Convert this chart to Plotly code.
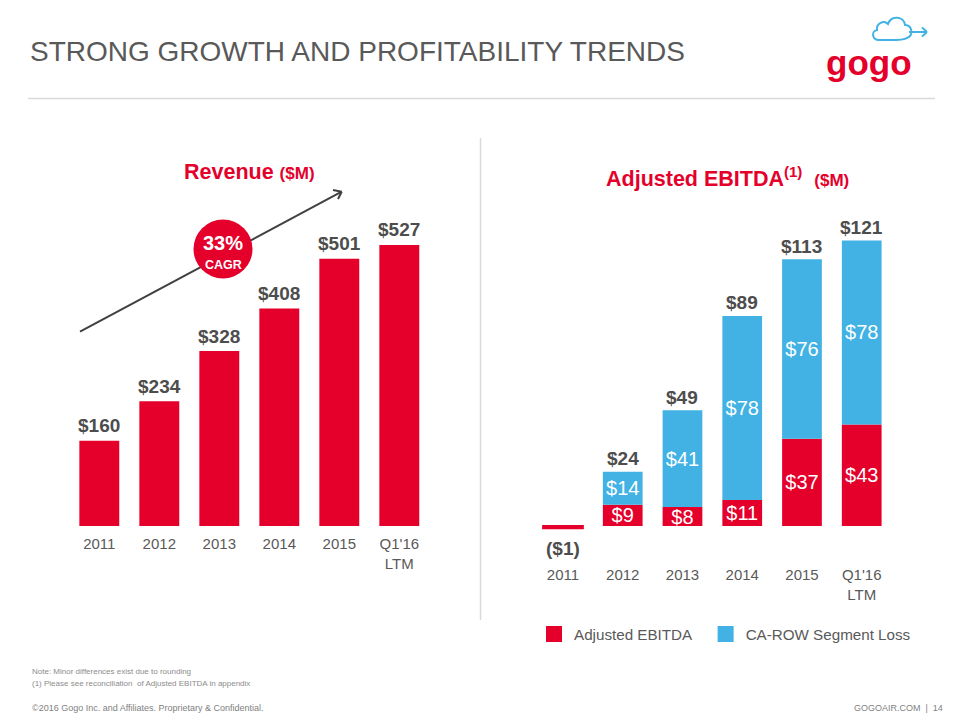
import plotly.graph_objects as go

# page offset (browser body margin) compensation
OFF = 8
W, H = 960 - OFF, 720 - OFF

# ---------------- data ----------------
categories = ["2011", "2012", "2013", "2014", "2015", "Q1'16<br>LTM"]
revenue = [160, 234, 328, 408, 501, 527]
adj_ebitda = [-1, 9, 8, 11, 37, 43]
ca_row_loss = [None, 14, 41, 78, 76, 78]
ebitda_totals = [-1, 24, 49, 89, 113, 121]
cagr_pct = 33

RED = "#E4002B"
BLUE = "#41B2E3"
DARK = "#4D4D4D"
GRAY = "#595959"
LIGHT = "#D9D9D9"
FONT = "Liberation Sans, Arial, sans-serif"


def px(x):
    return (x - OFF) / W


def py(y):
    return 1 - (y - OFF) / H


def money(v):
    return f"${v}" if v >= 0 else f"(${-v})"


fig = go.Figure()

# Revenue bars
fig.add_trace(go.Bar(
    x=categories, y=revenue, marker=dict(color=RED, line=dict(width=0)),
    xaxis="x", yaxis="y", showlegend=False, hoverinfo="skip",
))

# Adjusted EBITDA stacked bars
fig.add_trace(go.Bar(
    x=categories, y=adj_ebitda,
    marker=dict(color=RED, line=dict(color=RED, width=[2 if v < 0 else 0 for v in adj_ebitda])),
    xaxis="x2", yaxis="y2", showlegend=False, hoverinfo="skip",
    text=[money(v) if v > 0 else "" for v in adj_ebitda],
    textposition="inside", insidetextanchor="middle", textangle=0,
    constraintext="none", textfont=dict(color="white", size=20, family=FONT),
))
fig.add_trace(go.Bar(
    x=categories, y=ca_row_loss, marker=dict(color=BLUE, line=dict(width=0)),
    xaxis="x2", yaxis="y2", showlegend=False, hoverinfo="skip",
    text=[money(v) if v else "" for v in ca_row_loss],
    textposition="inside", insidetextanchor="middle", textangle=0,
    constraintext="none", textfont=dict(color="white", size=20, family=FONT),
))

# legend proxies
for name, col in [("Adjusted EBITDA\u00a0\u00a0", RED), ("CA-ROW Segment Loss", BLUE)]:
    fig.add_trace(go.Scatter(
        x=[None], y=[None], mode="markers", name=name,
        marker=dict(symbol="square", size=16, color=col),
        xaxis="x2", yaxis="y2", hoverinfo="skip",
    ))

annotations = []
# revenue totals
for i, v in enumerate(revenue):
    annotations.append(dict(
        x=i, y=v, xref="x", yref="y", text=f"<b>{money(v)}</b>", showarrow=False,
        yanchor="middle", yshift=15, font=dict(size=19, color=DARK, family=FONT),
    ))
# ebitda totals
for i, (a, b, t) in enumerate(zip(adj_ebitda, ca_row_loss, ebitda_totals)):
    top = a + (b or 0)
    annotations.append(dict(
        x=i, y=top, xref="x2", yref="y2", text=f"<b>{money(t)}</b>", showarrow=False,
        yanchor="middle", yshift=(13 if t >= 0 else -20),
        font=dict(size=19, color=DARK, family=FONT),
    ))

# titles and texts
annotations += [
    dict(x=px(28), y=py(51), xref="paper", yref="paper", xanchor="left", yanchor="middle",
         text="STRONG GROWTH AND PROFITABILITY TRENDS", showarrow=False,
         font=dict(size=28, color=GRAY, family=FONT)),
    dict(x=px(249), y=py(172), xref="paper", yref="paper", xanchor="center", yanchor="middle",
         text="<b>Revenue <span style='font-size:17px'>($M)</span></b>", showarrow=False,
         font=dict(size=21.5, color=RED, family=FONT)),
    dict(x=px(727), y=py(177), xref="paper", yref="paper", xanchor="center", yanchor="middle",
         text="<b>Adjusted EBITDA<sup>(1)</sup>  <span style='font-size:17px'>($M)</span></b>",
         showarrow=False, font=dict(size=21.5, color=RED, family=FONT)),
    dict(x=px(223), y=py(243), xref="paper", yref="paper", xanchor="center", yanchor="middle",
         text=f"<b>{cagr_pct}%</b>", showarrow=False,
         font=dict(size=20, color="white", family=FONT)),
    dict(x=px(223), y=py(265), xref="paper", yref="paper", xanchor="center", yanchor="middle",
         text="<b>CAGR</b>", showarrow=False,
         font=dict(size=12.5, color="white", family=FONT)),
    dict(x=px(869), y=py(62), xref="paper", yref="paper", xanchor="center", yanchor="middle",
         text="<b>gogo</b>", showarrow=False,
         font=dict(size=35, color=RED, family=FONT)),
    dict(x=px(30), y=py(671), xref="paper", yref="paper", xanchor="left", yanchor="middle",
         text="Note: Minor differences exist due to rounding", showarrow=False,
         font=dict(size=8, color="#8C8C8C", family=FONT)),
    dict(x=px(30), y=py(683), xref="paper", yref="paper", xanchor="left", yanchor="middle",
         text="(1) Please see reconciliation  of Adjusted EBITDA in appendix", showarrow=False,
         font=dict(size=8, color="#8C8C8C", family=FONT)),
    dict(x=px(30), y=py(708), xref="paper", yref="paper", xanchor="left", yanchor="middle",
         text="©2016 Gogo Inc. and Affiliates. Proprietary &amp; Confidential.", showarrow=False,
         font=dict(size=9, color="#7F7F7F", family=FONT)),
    dict(x=px(945), y=py(708), xref="paper", yref="paper", xanchor="right", yanchor="middle",
         text="GOGOAIR.COM  |  14", showarrow=False,
         font=dict(size=9, color="#7F7F7F", family=FONT)),
]


def line(x0, y0, x1, y1, color, width):
    return dict(type="line", xref="paper", yref="paper", x0=px(x0), y0=py(y0),
                x1=px(x1), y1=py(y1), line=dict(color=color, width=width))


def path(points):
    s = ""
    for cmd, *coords in points:
        s += cmd
        s += " ".join(f"{px(coords[i]):.5f},{py(coords[i+1]):.5f}" for i in range(0, len(coords), 2))
        s += " "
    return s.strip()


cloud = path([
    ("M", 879, 40),
    ("C", 872, 40, 871, 31, 877, 30),
    ("C", 876, 23, 884, 20, 888, 24),
    ("C", 891, 15, 904, 16, 905, 25),
    ("C", 912, 25, 914, 35, 907, 38),
    ("C", 903, 41, 888, 40, 879, 40),
])

shapes = [
    line(28, 98.5, 935, 98.5, LIGHT, 1.5),
    line(480.5, 138, 480.5, 620, LIGHT, 1.5),
    # CAGR trend arrow
    line(80, 331.7, 341.7, 191.7, "#404040", 2),
    line(341.7, 191.7, 333.0, 190.0, "#404040", 2),
    line(341.7, 191.7, 338.0, 199.0, "#404040", 2),
    dict(type="circle", xref="paper", yref="paper", x0=px(193.5), x1=px(252.5),
         y0=py(278.5), y1=py(219.5), fillcolor=RED, line=dict(width=0)),
    # logo cloud
    dict(type="path", xref="paper", yref="paper", path=cloud,
         line=dict(color=BLUE, width=2), fillcolor="rgba(0,0,0,0)"),
    line(909, 32, 927, 32, BLUE, 2),
    line(927, 32, 922, 27.5, BLUE, 2),
    line(927, 32, 922, 36.5, BLUE, 2),
]

axis_common = dict(type="category", showgrid=False, zeroline=False, showline=False,
                   ticks="", fixedrange=True, range=[-0.5, 5.5],
                   tickfont=dict(size=15, color=GRAY, family=FONT))

REV_PX = 320 / 600      # pixels per $M on revenue axis
EB_PX = 2.36            # pixels per $M on EBITDA axis

fig.update_layout(
    width=W, height=H, margin=dict(l=0, r=0, t=0, b=0),
    paper_bgcolor="white", plot_bgcolor="white",
    barmode="relative", bargap=0.335,
    xaxis=dict(domain=[px(69.3), px(429.3)], anchor="y", **axis_common),
    yaxis=dict(domain=[py(533), py(206)], range=[-7 / REV_PX, 600],
               visible=False, fixedrange=True),
    xaxis2=dict(domain=[px(533.1), px(891.6)], anchor="y2", **axis_common),
    yaxis2=dict(domain=[py(564), py(206)], range=[-38 / EB_PX, 320 / EB_PX],
                visible=False, fixedrange=True),
    legend=dict(orientation="h", x=px(534), y=py(634), xanchor="left", yanchor="middle",
                font=dict(size=15.2, color=GRAY, family=FONT), bgcolor="rgba(0,0,0,0)",
                itemclick=False, itemdoubleclick=False),
    annotations=annotations,
    shapes=shapes,
    showlegend=True,
)

fig.write_html("out.html")
